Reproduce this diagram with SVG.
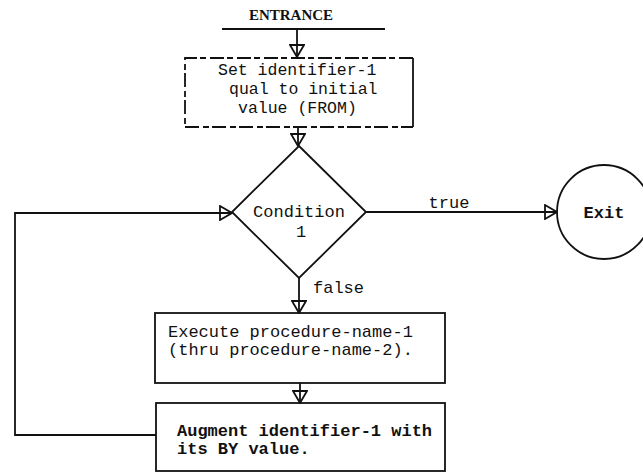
<svg xmlns="http://www.w3.org/2000/svg" width="643" height="473" viewBox="0 0 643 473">
  <style>
    .shape { fill: #fff; stroke: #111; stroke-width: 1.8; }
    .faded { fill: none; stroke: #111; stroke-width: 1.8; stroke-dasharray: 14 4 6 3; }
    .edge { fill: none; stroke: #111; stroke-width: 1.8; }
    .txt { font-family: "Liberation Mono", "DejaVu Sans Mono", monospace; font-size: 17px; fill: #111; }
    .small { font-size: 16.5px; }
    .bold { font-weight: bold; }
    .title { font-family: "Liberation Serif", "DejaVu Serif", serif; font-size: 15px; font-weight: bold; fill: #111; }
  </style>
  <defs>
    <marker id="arrow" viewBox="0 0 14 16" refX="13" refY="8" markerWidth="14" markerHeight="16" markerUnits="userSpaceOnUse" orient="auto">
      <path d="M1,1 L13,8 L1,15 Z" fill="none" stroke="#111" stroke-width="1.8" stroke-linejoin="miter"/>
    </marker>
  </defs>

  <rect width="643" height="473" fill="#fff"/>

  <!-- entrance bar -->
  <g id="entrance">
    <text class="title" x="291" y="20" text-anchor="middle">ENTRANCE</text>
    <line class="edge" x1="222" y1="29" x2="385" y2="29"/>
  </g>

  <!-- initialise step -->
  <g id="init">
    <rect x="185" y="58" width="228" height="69" fill="#fff" stroke="none"/>
    <path class="faded" d="M413,58 L185,58 L185,127 L413,127"/>
    <line class="edge" x1="413" y1="58" x2="413" y2="127"/>
    <text class="txt small" x="218" y="75">Set identifier-1</text>
    <text class="txt small" x="229" y="94">qual to initial</text>
    <text class="txt small" x="238" y="113">value (FROM)</text>
  </g>

  <!-- loop test -->
  <g id="condition">
    <polygon class="shape" points="299,146 366,212 299,278 232,212"/>
    <text class="txt" x="299" y="217" text-anchor="middle">Condition</text>
    <text class="txt" x="301" y="237" text-anchor="middle">1</text>
  </g>

  <!-- exit terminal -->
  <g id="exit">
    <circle class="shape" cx="604" cy="212" r="47"/>
    <text class="txt bold" x="604" y="218" text-anchor="middle" font-size="16">Exit</text>
  </g>

  <!-- loop body -->
  <g id="execute">
    <rect class="shape" x="155" y="313" width="290" height="70"/>
    <text class="txt" x="168" y="337">Execute procedure-name-1</text>
    <text class="txt" x="168" y="355">(thru procedure-name-2).</text>
  </g>

  <!-- increment -->
  <g id="augment">
    <rect class="shape" x="156" y="403" width="289" height="68"/>
    <text class="txt bold" x="177" y="436">Augment identifier-1 with</text>
    <text class="txt bold" x="177" y="454">its BY value.</text>
  </g>

  <!-- connectors -->
  <g id="connectors">
    <line class="edge" x1="297" y1="29" x2="297" y2="57" marker-end="url(#arrow)"/>
    <line class="edge" x1="298" y1="127" x2="298" y2="146" marker-end="url(#arrow)"/>
    <line class="edge" x1="366" y1="212" x2="557" y2="212" marker-end="url(#arrow)"/>
    <line class="edge" x1="299" y1="278" x2="299" y2="313" marker-end="url(#arrow)"/>
    <line class="edge" x1="300" y1="383" x2="300" y2="403" marker-end="url(#arrow)"/>
    <polyline class="edge" points="156,435 15,435 15,213 232,213" marker-end="url(#arrow)"/>
    <text class="txt" x="449" y="208" text-anchor="middle" font-size="16">true</text>
    <text class="txt" x="313" y="293" font-size="16">false</text>
  </g>
</svg>
